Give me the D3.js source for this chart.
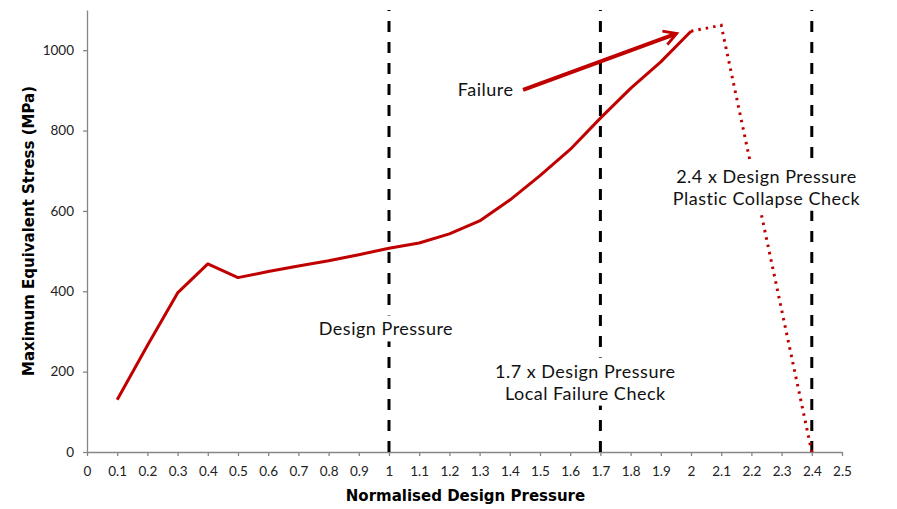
<html>
<head>
    <script src="https://d3js.org/d3.v7.min.js"></script>
    <style>
        body { margin: 0; background: #fff; }
        text { font-family: "Lato", "DejaVu Sans", sans-serif; }
    </style>
</head>
<body>
    <svg id="svg" width="897" height="509"></svg>
    <script>
        // DATA
        const pressure = [0.1, 0.2, 0.3, 0.4, 0.5, 0.6, 0.7, 0.8, 0.9, 1.0, 1.1, 1.2, 1.3, 1.4, 1.5, 1.6, 1.7, 1.8, 1.9, 2.0]
        const stress = [130, 265, 396, 468, 434, 449, 463, 476, 491, 507, 520, 543, 575, 627, 688, 753, 831, 905, 971, 1047]
        const collapseX = [2.0, 2.1, 2.4]
        const collapseY = [1047, 1062, 0]
        const checkLines = [1.0, 1.7, 2.4]
        const xTicks = d3.range(0, 26).map(i => i / 10)
        const yTicks = [0, 200, 400, 600, 800, 1000]

        // annotation positions in data units
        const labels = [
            { lines: ["Failure"], x: 1.32, y: 901 },
            { lines: ["Design Pressure"], x: 0.99, y: 305 },
            { lines: ["1.7 x Design Pressure", "Local Failure Check"], x: 1.65, y: 200 },
            { lines: ["2.4 x Design Pressure", "Plastic Collapse Check"], x: 2.25, y: 685 }
        ]
        const arrow = { x0: 1.444, y0: 901, x1: 1.947, y1: 1040 }

        // LAYOUT
        const margin = { left: 87, right: 55, top: 10, bottom: 57 }
        const width = 897, height = 509
        const x = d3.scaleLinear().domain([0, 2.5]).range([margin.left, width - margin.right])
        const y = d3.scaleLinear().domain([0, 1100]).range([height - margin.bottom, margin.top])

        const svg = d3.select("#svg")
        const red = "#c00000"
        const axisColor = "#868686"

        const defs = svg.append("defs")
        defs.append("marker")
            .attr("id", "head")
            .attr("viewBox", "0 0 10 10")
            .attr("refX", 7).attr("refY", 5)
            .attr("markerWidth", 4.5).attr("markerHeight", 4.5)
            .attr("markerUnits", "strokeWidth")
            .attr("orient", "auto")
            .append("path")
            .attr("d", "M1,1 L8,5 L1,9")
            .attr("fill", "none")
            .attr("stroke", red)
            .attr("stroke-width", 1.6)

        // axes
        const xAxis = svg.append("g")
            .attr("transform", `translate(0,${y(0)})`)
            .call(d3.axisBottom(x).tickValues(xTicks).tickSize(4).tickSizeOuter(0).tickFormat(d => String(+d.toFixed(1))))
        const yAxis = svg.append("g")
            .attr("transform", `translate(${x(0)},0)`)
            .call(d3.axisLeft(y).tickValues(yTicks).tickSize(4).tickSizeOuter(0).tickFormat(d => String(d)))

        ;[xAxis, yAxis].forEach(g => {
            g.select(".domain").attr("stroke", axisColor).attr("stroke-width", 1.3)
            g.selectAll(".tick line").attr("stroke", axisColor).attr("stroke-width", 1.3)
            g.selectAll(".tick text")
                .attr("fill", "#222")
                .style("font-size", "13.5px")
                .style("font-family", "Lato, sans-serif")
        })
        xAxis.selectAll(".tick text").attr("dy", "1.25em")
        yAxis.selectAll(".tick text").attr("x", -13)

        // axis titles
        svg.append("text")
            .attr("x", (x(0) + x(2.5)) / 2 + 1)
            .attr("y", 501)
            .attr("text-anchor", "middle")
            .style("font-family", "DejaVu Sans, sans-serif")
            .style("font-size", "15px")
            .style("font-weight", "bold")
            .text("Normalised Design Pressure")
        svg.append("text")
            .attr("transform", `translate(34,${(y(0) + y(1100)) / 2}) rotate(-90)`)
            .attr("text-anchor", "middle")
            .style("font-family", "DejaVu Sans, sans-serif")
            .style("font-size", "15px")
            .style("font-weight", "bold")
            .text("Maximum Equivalent Stress (MPa)")

        // check lines
        svg.append("g").selectAll("line")
            .data(checkLines)
            .join("line")
            .attr("x1", d => x(d)).attr("x2", d => x(d))
            .attr("y1", y(0)).attr("y2", y(1100))
            .attr("stroke", "#000")
            .attr("stroke-width", 3)
            .attr("stroke-dasharray", "11,10")

        // main curve
        const line = d3.line().x(d => x(d[0])).y(d => y(d[1]))
        svg.append("path")
            .datum(d3.zip(pressure, stress))
            .attr("d", line)
            .attr("fill", "none")
            .attr("stroke", red)
            .attr("stroke-width", 3)
            .attr("stroke-linejoin", "round")

        svg.append("path")
            .datum(d3.zip(collapseX, collapseY))
            .attr("d", line)
            .attr("fill", "none")
            .attr("stroke", red)
            .attr("stroke-width", 3)
            .attr("stroke-dasharray", "2.5,5")

        // failure arrow
        svg.append("line")
            .attr("x1", x(arrow.x0)).attr("y1", y(arrow.y0))
            .attr("x2", x(arrow.x1)).attr("y2", y(arrow.y1))
            .attr("stroke", red)
            .attr("stroke-width", 4)
            .attr("marker-end", "url(#head)")

        // annotation labels with white backing
        labels.forEach(l => {
            const g = svg.append("g")
            const t = g.append("text")
                .attr("text-anchor", "middle")
                .style("font-size", "18px")
                .style("letter-spacing", "0.5px")
                .attr("fill", "#111")
            l.lines.forEach((s, i) => {
                t.append("tspan")
                    .attr("x", x(l.x))
                    .attr("y", y(l.y) + i * 22 + 6)
                    .text(s)
            })
            const b = t.node().getBBox()
            g.insert("rect", "text")
                .attr("x", b.x - 3).attr("y", b.y - 2)
                .attr("width", b.width + 6).attr("height", b.height + 4)
                .attr("fill", "#fff")
        })
    </script>
</body>
</html>
